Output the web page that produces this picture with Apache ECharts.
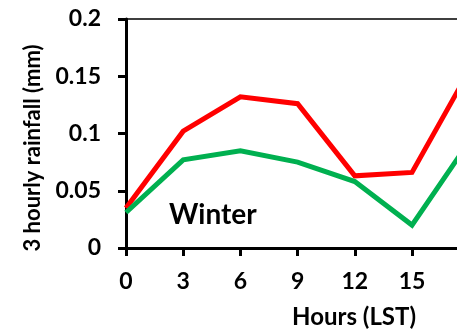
<!DOCTYPE html>
<html>
<head>
<meta charset="utf-8">
<script src="https://cdn.jsdelivr.net/npm/echarts@6/dist/echarts.min.js"></script>
<style>
  html, body { margin: 0; padding: 0; background: #fff; }
  #main { width: 457px; height: 330px; }
</style>
</head>
<body>
<div id="main"></div>
<script>
// hours of day (LST)
const hours = [0, 3, 6, 9, 12, 15, 18];
const redRain = [0.035, 0.102, 0.132, 0.126, 0.063, 0.066, 0.155];
const greenRain = [0.031, 0.077, 0.085, 0.075, 0.058, 0.020, 0.093];
const yTicks = [0, 0.05, 0.1, 0.15, 0.2];

const font = 'Lato';
const chart = echarts.init(document.getElementById('main'));

const toPairs = (vals) => hours.map((h, i) => [h, vals[i]]);

const option = {
    animation: false,
    grid: {
        left: 126,
        top: 19,
        width: 343.2,
        height: 229,
        show: true,
        borderColor: '#000',
        borderWidth: 1.5,
        outerBoundsMode: 'none',
        containLabel: false
    },
    xAxis: {
        type: 'value',
        min: 0,
        max: 18,
        interval: 3,
        axisLine: { lineStyle: { color: '#000', width: 3 } },
        axisTick: { show: true, length: 8, lineStyle: { color: '#000', width: 3 } },
        axisLabel: { color: '#000', fontFamily: font, fontWeight: 'bold', fontSize: 23, margin: 22 },
        splitLine: { show: false }
    },
    yAxis: {
        type: 'value',
        min: yTicks[0],
        max: yTicks[yTicks.length - 1],
        interval: 0.05,
        axisLine: { show: true, lineStyle: { color: '#000', width: 3 } },
        axisTick: { show: true, length: 8, lineStyle: { color: '#000', width: 3 } },
        axisLabel: { color: '#000', fontFamily: font, fontWeight: 'bold', fontSize: 23, margin: 25 },
        splitLine: { show: false }
    },
    graphic: [
        {
            type: 'text',
            x: 33,
            y: 148,
            rotation: Math.PI / 2,
            style: {
                text: '3 hourly rainfall (mm)',
                fill: '#000',
                font: 'bold 22px ' + font,
                align: 'center',
                verticalAlign: 'middle'
            }
        },
        {
            type: 'text',
            x: 416,
            y: 317,
            style: {
                text: 'Hours (LST)',
                fill: '#000',
                font: 'bold 24px ' + font,
                align: 'right',
                verticalAlign: 'middle'
            }
        },
        {
            type: 'text',
            x: 169,
            y: 215,
            style: {
                text: 'Winter',
                fill: '#000',
                font: 'bold 28px ' + font,
                align: 'left',
                verticalAlign: 'middle'
            }
        }
    ],
    series: [
        {
            name: 'Red',
            type: 'line',
            data: toPairs(redRain),
            symbol: 'none',
            lineStyle: { color: '#ff0000', width: 5, join: 'miter' }
        },
        {
            name: 'Green',
            type: 'line',
            data: toPairs(greenRain),
            symbol: 'none',
            lineStyle: { color: '#00b050', width: 5, join: 'miter' }
        }
    ]
};

chart.setOption(option);
</script>
</body>
</html>
